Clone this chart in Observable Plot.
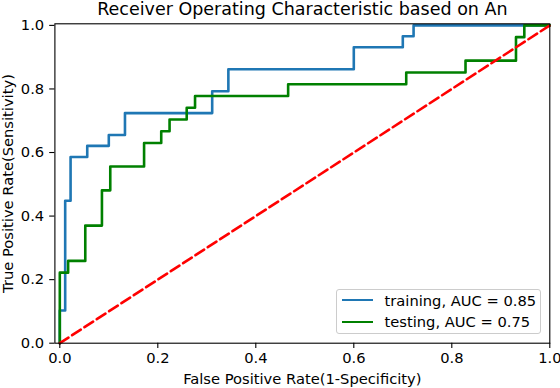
<!DOCTYPE html>
<html><head><meta charset="utf-8">
<script src="https://cdn.jsdelivr.net/npm/d3@7"></script>
<script src="https://cdn.jsdelivr.net/npm/@observablehq/plot@0.6"></script>
<style>
html,body{margin:0;padding:0;background:#fff;}
#wrap{position:relative;width:560px;height:388px;font-family:"DejaVu Sans",sans-serif;}
#wrap svg{position:absolute;left:0;top:0;}
.legend{position:absolute;left:336px;top:289px;width:205px;height:45px;border:1px solid #cccccc;border-radius:3px;background:rgba(255,255,255,0.8);box-sizing:border-box;}
.row{position:absolute;left:4.5px;height:20px;display:flex;align-items:center;font-size:14.7px;color:#000;white-space:nowrap;}
.sw{width:31px;height:0;border-top:2.6px solid;margin-right:12px;}
</style></head><body><div id="wrap"></div>
<script>
const title = "Receiver Operating Characteristic based on An";
const xLabel = "False Positive Rate(1-Specificity)";
const yLabel = "True Positive Rate(Sensitivity)";
const tickValues = [0, 0.2, 0.4, 0.6, 0.8, 1.0];
const seriesNames = ["training, AUC = 0.85", "testing, AUC = 0.75"];
const seriesColors = ["#1f77b4", "#008000"];

// ROC step points (fpr, tpr) for training
const trainFpr = [0, 0, 0.011, 0.022, 0.056, 0.1, 0.133, 0.311, 0.344, 0.6, 0.7, 0.722, 1.0];
const trainTpr = [0, 0.103, 0.448, 0.586, 0.621, 0.655, 0.724, 0.793, 0.862, 0.931, 0.966, 1.0, 1.0];
// ROC step points (fpr, tpr) for testing
const testFpr = [0, 0, 0.017, 0.052, 0.086, 0.103, 0.172, 0.207, 0.224, 0.259, 0.276, 0.466, 0.707, 0.828, 0.931, 0.948, 1.0];
const testTpr = [0, 0.222, 0.259, 0.370, 0.481, 0.556, 0.630, 0.667, 0.704, 0.741, 0.778, 0.815, 0.852, 0.889, 0.963, 1.0, 1.0];
// chance diagonal
const diagX = [0, 1];
const diagY = [0, 1];

const train = trainFpr.map((f, i) => ({fpr: f, tpr: trainTpr[i]}));
const test = testFpr.map((f, i) => ({fpr: f, tpr: testTpr[i]}));
const diag = diagX.map((x, i) => ({fpr: x, tpr: diagY[i]}));
const fmt = d3.format(".1f");

const chart = Plot.plot({
  width: 560, height: 388,
  marginLeft: 54.4, marginRight: 10.7, marginTop: 23.3, marginBottom: 45.3,
  style: {fontFamily: "DejaVu Sans", fontSize: "14.7px", color: "#000", background: "transparent", overflow: "visible"},
  x: {domain: [-0.01, 1.0]},
  y: {domain: [0, 1.005]},
  marks: [
    Plot.line(train, {x: "fpr", y: "tpr", curve: "step-after", stroke: seriesColors[0], strokeWidth: 2.6}),
    Plot.line(test, {x: "fpr", y: "tpr", curve: "step-after", stroke: seriesColors[1], strokeWidth: 2.6}),
    Plot.line(diag, {x: "fpr", y: "tpr", stroke: "#ff0000", strokeWidth: 2.6, strokeDasharray: "10.3,4.4"}),
    Plot.frame({stroke: "#000", strokeWidth: 1.1}),
    Plot.axisX(tickValues, {tickSize: 5.2, tickPadding: 4.5, tickFormat: fmt, label: null, strokeWidth: 1.1}),
    Plot.axisY(tickValues, {tickSize: 5.2, tickPadding: 5.5, tickFormat: fmt, label: null, strokeWidth: 1.1}),
    Plot.text([title], {text: d => d, frameAnchor: "top", lineAnchor: "bottom", dy: -8.8, fontSize: 17.5}),
    Plot.text([xLabel], {text: d => d, frameAnchor: "bottom", lineAnchor: "bottom", dy: 41, fontSize: 14.7}),
    Plot.text([yLabel], {text: d => d, frameAnchor: "left", textAnchor: "middle", lineAnchor: "middle", rotate: -90, dx: -47, fontSize: 14.7})
  ]
});

const wrap = document.getElementById("wrap");
wrap.appendChild(chart);
const legend = document.createElement("div");
legend.className = "legend";
const rowTops = [0, 21.7];
seriesNames.forEach((name, i) => {
  const row = document.createElement("div");
  row.className = "row";
  row.style.top = rowTops[i] + "px";
  const sw = document.createElement("span");
  sw.className = "sw";
  sw.style.borderTopColor = seriesColors[i];
  row.appendChild(sw);
  row.appendChild(document.createTextNode(name));
  legend.appendChild(row);
});
wrap.appendChild(legend);
</script></body></html>
